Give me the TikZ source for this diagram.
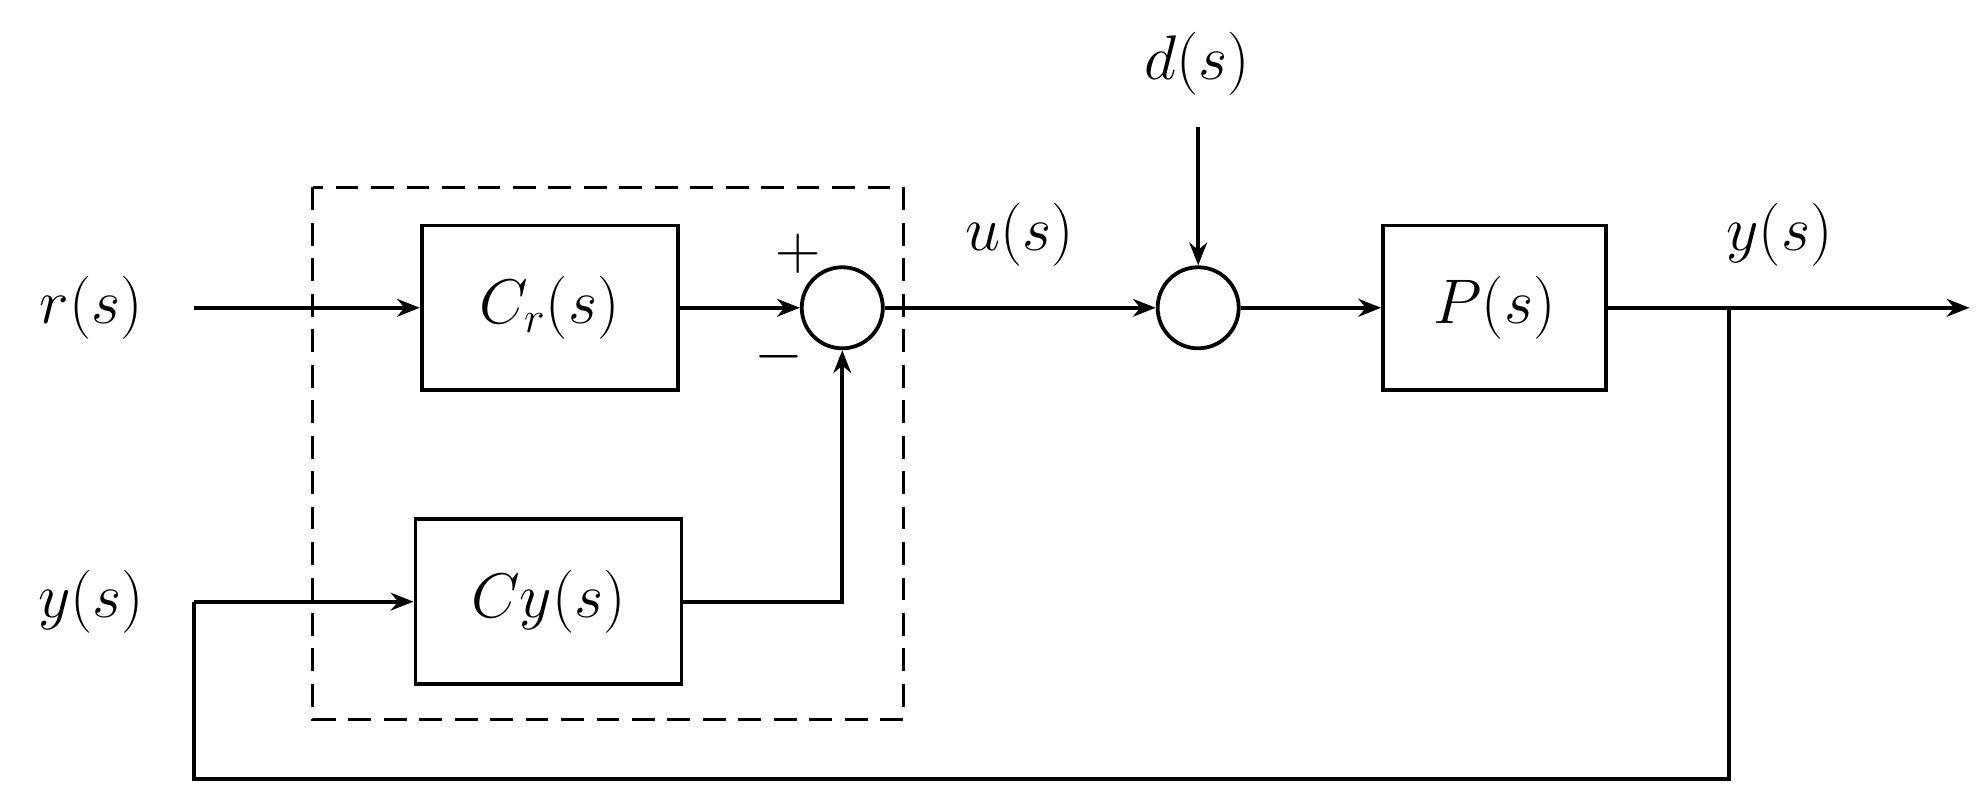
\documentclass[tikz,border=0pt]{standalone}
\usetikzlibrary{arrows.meta}
\begin{document}
\begin{tikzpicture}[x=0.5pt,y=-0.5pt,line width=1.5pt,
  blk/.style={draw,line width=1.5pt,minimum width=101pt,minimum height=65pt,inner sep=0pt},
  sum/.style={draw,circle,line width=1.5pt,minimum size=32pt,inner sep=0pt},
  lbl/.style={font=\fontsize{26}{30}\selectfont},
  arr/.style={-{Stealth[length=9pt,width=7pt]}}]
\useasboundingbox (0,0) rectangle (1568,637);
\draw[dashed,line width=1.2pt,dash pattern=on 9pt off 5pt] (247,148) rectangle (713,568);
\node[blk,lbl] (cr) at (434,243) {$C_r(s)$};
\node[blk,lbl,minimum width=105pt] (cy) at (433,475) {$Cy(s)$};
\node[sum] (s1) at (665,243) {};
\node[sum] (s2) at (946,243) {};
\node[blk,lbl,minimum width=88pt] (p) at (1180,243) {$P(s)$};
\node[lbl] (r) at (72,243) {$r(s)$};
\node[lbl] (yin) at (72,475) {$y(s)$};
\node[lbl] (u) at (805,185) {$u(s)$};
\node[lbl] (d) at (945,50) {$d(s)$};
\node[lbl] (yout) at (1405,185) {$y(s)$};
\node[lbl] (plus) at (630,200) {$+$};
\node[lbl] (minus) at (615,282) {$-$};
\coordinate (rs) at (153,243);
\coordinate (ys) at (153,475);
\coordinate (ds) at (946,100);
\coordinate (br) at (1365,243);
\coordinate (end) at (1555,243);
\draw[arr] (rs) -- (cr);
\draw[arr] (cr) -- (s1);
\draw[arr] (cy.east) -| (s1.south);
\draw[arr] (ys) -- (cy);
\draw[arr] (s1) -- (s2);
\draw[arr] (ds) -- (s2);
\draw[arr] (s2) -- (p);
\draw[arr] (p) -- (end);
\draw (br) |- (153,615) -- (ys);
\end{tikzpicture}
\end{document}
